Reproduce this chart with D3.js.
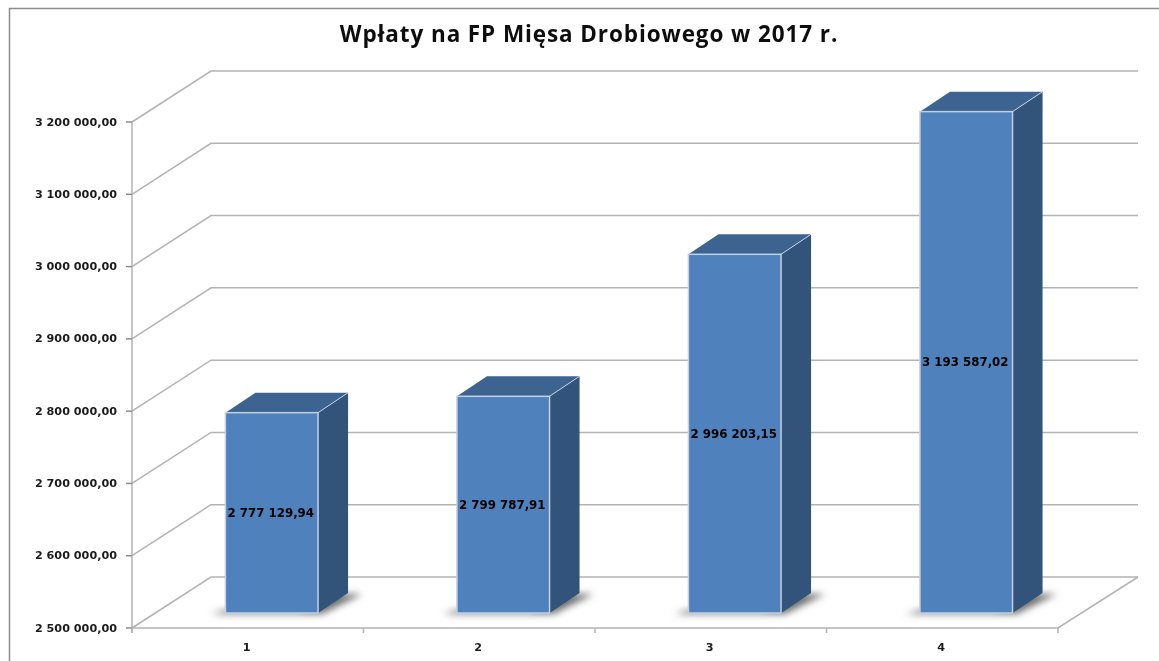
<!DOCTYPE html>
<html>
<head>
<meta charset="utf-8">
<script src="https://cdn.jsdelivr.net/npm/d3@7"></script>
<style>
  html, body { margin: 0; padding: 0; background: #fff; }
  svg { display: block; font-family: "DejaVu Sans", sans-serif; font-weight: 700; }
</style>
</head>
<body>
<svg width="1159" height="661"></svg>
<script>
const categories = ['1', '2', '3', '4'];
const values = [2777129.94, 2799787.91, 2996203.15, 3193587.02];
const valueLabels = ['2 777 129,94', '2 799 787,91', '2 996 203,15', '3 193 587,02'];
const yTicks = [2500000, 2600000, 2700000, 2800000, 2900000, 3000000, 3100000, 3200000];
const yTickLabels = ['2 500 000,00', '2 600 000,00', '2 700 000,00', '2 800 000,00', '2 900 000,00', '3 000 000,00', '3 100 000,00', '3 200 000,00'];
const TITLE = 'Wpłaty na FP Mięsa Drobiowego w 2017 r.';

const svg = d3.select('svg');

const FRONT_LEFT = 132;
const FRONT_RIGHT = 1058;
const WALL_DX = 79;
const WALL_DY = -51;
const BAR_DX = 24;
const BAR_DY = -15;
const DEPTH_DX = 30;
const DEPTH_DY = -20;
const GRID = '#b3b3b3';

const X_SCALE = d3.scaleBand()
    .domain(categories)
    .range([FRONT_LEFT, FRONT_RIGHT])
    .paddingInner(0.6)
    .paddingOuter(0.3);

const BAND = d3.scaleBand()
    .domain(categories)
    .range([FRONT_LEFT, FRONT_RIGHT]);

const Y_SCALE = d3.scaleLinear()
    .domain([2500000, 3200000])
    .range([628, 122]);

const BASE = Y_SCALE(2500000);

const defs = svg.append('defs');
defs.append('filter')
    .attr('id', 'shadow')
    .attr('x', '-20%').attr('y', '-50%')
    .attr('width', '140%').attr('height', '200%')
    .append('feGaussianBlur')
    .attr('stdDeviation', 3.5);
defs.append('filter')
    .attr('id', 'soft')
    .attr('x', '-5%').attr('y', '-5%')
    .attr('width', '110%').attr('height', '110%')
    .append('feGaussianBlur')
    .attr('stdDeviation', 0.55);

const chart = svg.append('g').attr('filter', 'url(#soft)');

// picture frame, only top and left show
chart.append('path')
    .attr('d', 'M1159,8.5H9.5V661')
    .attr('fill', 'none')
    .attr('stroke', '#8c8c8c')
    .attr('stroke-width', 1.5);

// gridlines on back wall and side wall
chart.selectAll('.grid')
    .data(yTicks)
    .join('path')
    .attr('class', 'grid')
    .attr('fill', 'none')
    .attr('stroke', GRID)
    .attr('stroke-width', 1.5)
    .attr('d', d => `M${FRONT_LEFT},${Y_SCALE(d)}l${WALL_DX},${WALL_DY}H${FRONT_RIGHT + WALL_DX + 1}`);

// floor front and right edges
chart.append('path')
    .attr('fill', 'none')
    .attr('stroke', GRID)
    .attr('stroke-width', 1.5)
    .attr('d', `M${FRONT_LEFT},${BASE}H${FRONT_RIGHT}l${WALL_DX + 1},${WALL_DY}`);

// y axis
chart.append('line')
    .attr('x1', FRONT_LEFT).attr('x2', FRONT_LEFT)
    .attr('y1', Y_SCALE(3200000)).attr('y2', BASE + 5)
    .attr('stroke', GRID).attr('stroke-width', 1.5);

chart.selectAll('.ytick')
    .data(yTicks)
    .join('line')
    .attr('class', 'ytick')
    .attr('x1', FRONT_LEFT - 6).attr('x2', FRONT_LEFT)
    .attr('y1', d => Y_SCALE(d)).attr('y2', d => Y_SCALE(d))
    .attr('stroke', '#8c8c8c').attr('stroke-width', 1.5);

chart.selectAll('.ylabel')
    .data(yTicks)
    .join('text')
    .attr('class', 'ylabel')
    .attr('x', 117)
    .attr('y', d => Y_SCALE(d) + 3.5)
    .attr('text-anchor', 'end')
    .attr('font-size', 11.2)
    .attr('fill', '#1a1a1a')
    .text((d, i) => yTickLabels[i]);

// x axis ticks and labels
chart.selectAll('.xtick')
    .data([...categories.map(c => BAND(c)), FRONT_RIGHT])
    .join('line')
    .attr('class', 'xtick')
    .attr('x1', d => d).attr('x2', d => d)
    .attr('y1', BASE).attr('y2', BASE + 5)
    .attr('stroke', GRID).attr('stroke-width', 1.5);

chart.selectAll('.xlabel')
    .data(categories)
    .join('text')
    .attr('class', 'xlabel')
    .attr('x', d => BAND(d) + BAND.bandwidth() / 2 - 1)
    .attr('y', 651)
    .attr('text-anchor', 'middle')
    .attr('font-size', 11.2)
    .attr('fill', '#1a1a1a')
    .text(d => d);

// bars
const barX = d => X_SCALE(d) + BAR_DX;
const BAR_W = X_SCALE.bandwidth();
const barBottom = BASE + BAR_DY;
const barTop = v => Y_SCALE(v) + BAR_DY;

const bars = chart.selectAll('.bar')
    .data(categories)
    .join('g')
    .attr('class', 'bar');

// floor shadow
bars.append('path')
    .attr('filter', 'url(#shadow)')
    .attr('fill', '#6f6f6f')
    .attr('d', d => {
        const x = barX(d);
        return `M${x - 14},${barBottom + 1}H${x + BAR_W + 4}L${x + BAR_W + DEPTH_DX + 14},${barBottom + DEPTH_DY + 1}H${x + BAR_W + DEPTH_DX - 14}L${x + BAR_W - 20},${barBottom - 3}H${x}Z`;
    });

// side
bars.append('path')
    .attr('fill', '#31527a')
    .attr('d', (d, i) => {
        const x = barX(d) + BAR_W;
        return `M${x},${barTop(values[i])}l${DEPTH_DX},${DEPTH_DY}V${barBottom + DEPTH_DY}L${x},${barBottom}Z`;
    });

// top
bars.append('path')
    .attr('fill', '#3c6491')
    .attr('d', (d, i) => {
        const x = barX(d);
        return `M${x},${barTop(values[i])}l${DEPTH_DX},${DEPTH_DY}h${BAR_W}l${-DEPTH_DX},${-DEPTH_DY}Z`;
    });

// light edge between top and side
bars.append('path')
    .attr('fill', 'none')
    .attr('stroke', '#c3d0e2')
    .attr('stroke-width', 1)
    .attr('d', (d, i) => {
        const x = barX(d) + BAR_W;
        return `M${x},${barTop(values[i])}l${DEPTH_DX},${DEPTH_DY}`;
    });

// front
bars.append('rect')
    .attr('x', d => barX(d))
    .attr('y', (d, i) => barTop(values[i]))
    .attr('width', BAR_W)
    .attr('height', (d, i) => barBottom - barTop(values[i]))
    .attr('fill', '#4f81bd')
    .attr('stroke', '#c3d0e2')
    .attr('stroke-width', 1.5);

// value labels
bars.append('text')
    .attr('x', d => barX(d) + BAR_W / 2 - 1)
    .attr('y', (d, i) => (barTop(values[i]) + barBottom) / 2 + 4)
    .attr('text-anchor', 'middle')
    .attr('font-size', 11.8)
    .attr('fill', '#000')
    .text((d, i) => valueLabels[i]);

chart.append('text')
    .attr('x', 589)
    .attr('y', 42)
    .attr('text-anchor', 'middle')
    .attr('font-family', '"Open Sans", sans-serif')
    .attr('font-size', 22.5)
    .attr('letter-spacing', 0.9)
    .attr('fill', '#111')
    .text(TITLE);
</script>
</body>
</html>
